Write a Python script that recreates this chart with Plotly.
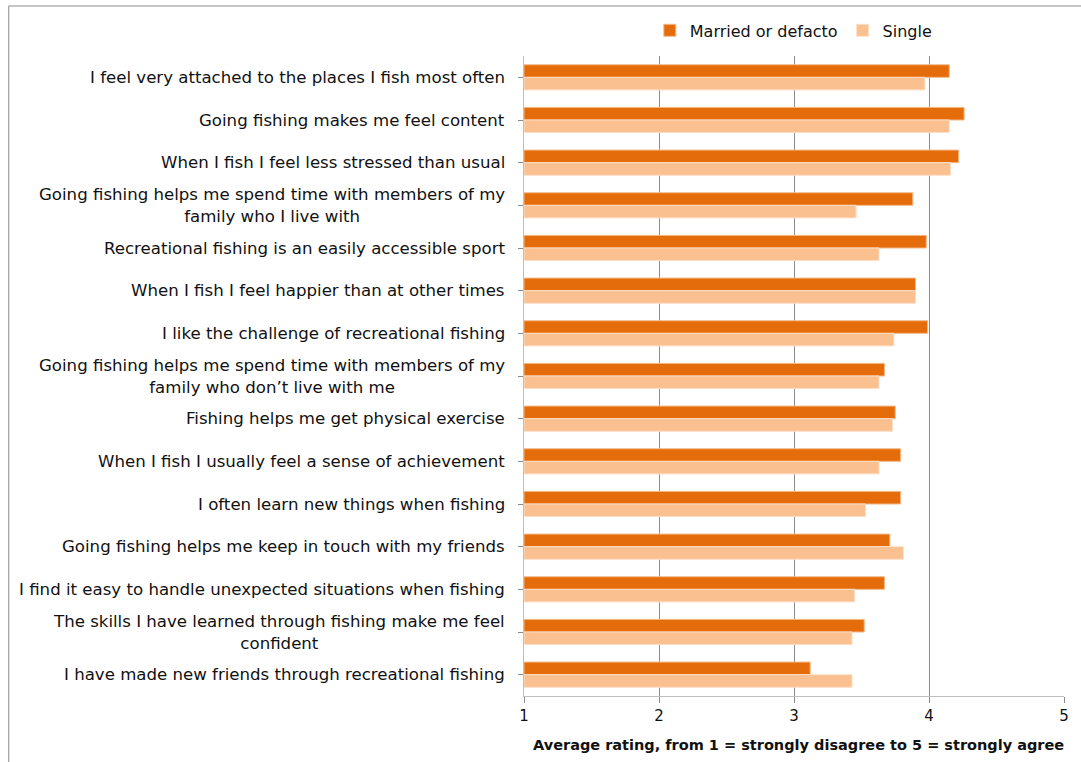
import plotly.graph_objects as go

statements = [
    "I feel very attached to the places I fish most often",
    "Going fishing makes me feel content",
    "When I fish I feel less stressed than usual",
    "Going fishing helps me spend time with members of my<br>family who I live with",
    "Recreational fishing is an easily accessible sport",
    "When I fish I feel happier than at other times",
    "I like the challenge of recreational fishing",
    "Going fishing helps me spend time with members of my<br>family who don\u2019t live with me",
    "Fishing helps me get physical exercise",
    "When I fish I usually feel a sense of achievement",
    "I often learn new things when fishing",
    "Going fishing helps me keep in touch with my friends",
    "I find it easy to handle unexpected situations when fishing",
    "The skills I have learned through fishing make me feel<br>confident",
    "I have made new friends through recreational fishing",
]
married = [4.15, 4.26, 4.22, 3.88, 3.98, 3.90, 3.99, 3.67, 3.75, 3.79, 3.79, 3.71, 3.67, 3.52, 3.12]
single = [3.97, 4.15, 4.16, 3.46, 3.63, 3.90, 3.74, 3.63, 3.73, 3.63, 3.53, 3.81, 3.45, 3.43, 3.43]
x_ticks = [1, 2, 3, 4, 5]
x_title = "Average rating, from 1 = strongly disagree to 5 = strongly agree"

ids = list(range(len(statements)))

fig = go.Figure()
fig.add_trace(go.Bar(
    y=ids, x=[v - 1 for v in married], base=1, orientation="h",
    name="Married or defacto",
    marker=dict(color="#E46C0A", line=dict(color="#F6B787", width=1)),
))
fig.add_trace(go.Bar(
    y=ids, x=[v - 1 for v in single], base=1, orientation="h",
    name="Single",
    marker=dict(color="#FAC090", line=dict(color="#FCE0CA", width=1)),
))

# Statement labels, centred line-by-line and right-aligned against the axis
for i, s in enumerate(statements):
    fig.add_annotation(
        x=0, xref="paper", y=i, yref="y", text=s, showarrow=False,
        xanchor="right", yanchor="middle", align="center", xshift=-17,
        font=dict(family="DejaVu Sans", size=16.6, color="#111111"),
    )

# Value-axis title, right-aligned with the end of the axis
fig.add_annotation(
    x=1.004, xref="paper", y=0, yref="paper", yshift=-49,
    text="<b>" + x_title + "</b>", showarrow=False,
    xanchor="right", yanchor="middle",
    font=dict(family="DejaVu Sans", size=14.5, color="#111111"),
)

axis_grey = "#8C8C8C"
fig.update_layout(
    width=1081, height=762,
    margin=dict(l=524, r=12, t=56, b=66),
    paper_bgcolor="white", plot_bgcolor="white",
    barmode="group", bargap=0.41, bargroupgap=0,
    showlegend=True,
    legend=dict(
        orientation="h", x=0.233, xanchor="left", y=1.04, yanchor="middle",
        font=dict(family="DejaVu Sans", size=16, color="#111111"),
        itemwidth=30, traceorder="normal", bgcolor="rgba(0,0,0,0)",
    ),
    xaxis=dict(
        range=[1, 5], tickvals=x_ticks, ticktext=[str(t) for t in x_ticks],
        showgrid=True, gridcolor=axis_grey, gridwidth=1,
        showline=True, linecolor="#BFBFBF", linewidth=1,
        ticks="outside", ticklen=6, tickcolor=axis_grey,
        tickfont=dict(family="DejaVu Sans", size=15, color="#111111"),
        zeroline=False, fixedrange=True,
    ),
    yaxis=dict(
        tickvals=ids, showticklabels=False,
        range=[len(statements) - 0.5, -0.5], autorange=False,
        showgrid=False, zeroline=False,
        showline=True, linecolor="#BFBFBF", linewidth=1,
        ticks="outside", ticklen=5, tickcolor=axis_grey,
        tickson="boundaries", type="linear",
    ),
)

# Outer chart frame
fig.add_shape(
    type="rect", xref="paper", yref="paper",
    x0=(4 - 524) / 545, x1=(1090 - 524) / 545,
    y0=(696 - 780) / 640, y1=(696 - 6) / 640,
    line=dict(color="#8C8C8C", width=1), fillcolor="rgba(0,0,0,0)", layer="below",
)

fig.write_html("out.html")
